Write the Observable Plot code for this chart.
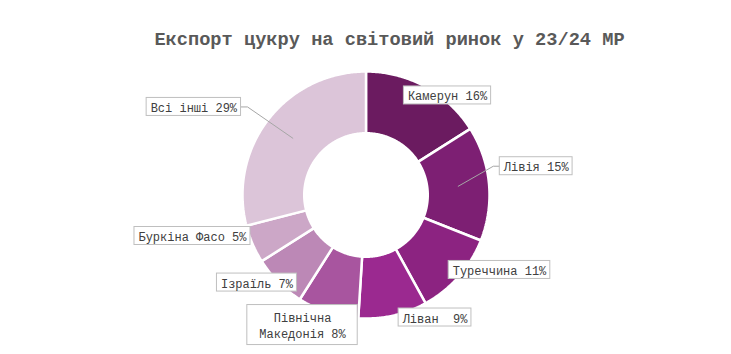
<!DOCTYPE html>
<html>
<head>
<meta charset="utf-8">
<script src="https://cdn.jsdelivr.net/npm/d3@7"></script>
<script src="https://cdn.jsdelivr.net/npm/@observablehq/plot@0.6"></script>
<style>
  html, body { margin: 0; padding: 0; background: #ffffff; }
  svg text { white-space: pre; }
</style>
</head>
<body>
<div id="chart"></div>
<script>
// ---- data ----
const titleText = "Експорт цукру на світовий ринок у 23/24 МР";
const categories = ["Камерун", "Лівія", "Туреччина", "Ліван", "Північна Македонія", "Ізраїль", "Буркіна Фасо", "Всі інші"];
const shares = [16, 15, 11, 9, 8, 7, 5, 29];
const labelTexts = ["Камерун 16%", "Лівія 15%", "Туреччина 11%", "Ліван  9%", "Північна\nМакедонія 8%", "Ізраїль 7%", "Буркіна Фасо 5%", "Всі інші 29%"];
const sliceColors = ["#6b1b60", "#7d1f73", "#8c2381", "#9b2990", "#a8559f", "#bc88b6", "#cca7c7", "#dcc5d9"];

// ---- layout (not data) ----
const W = 731, H = 354;
const R = 123.5;              // outer radius in px
const CX = 365.5, CY = 194.5; // centre in px
const HOLE = 0.5;             // doughnut hole size
const FS = 12, PAD = 4, LH = 1.3;
const MONO = "'Courier New', 'Nimbus Mono PS', FreeMono, 'Liberation Mono', monospace";
// label box centres in units of the outer radius (x right, y up)
const labelPos = [[0.660, 0.806], [1.378, 0.233], [1.081, -0.607], [0.559, -0.992], [-0.514, -1.053], [-0.883, -0.709], [-1.405, -0.332], [-1.394, 0.713]];
const hasLeader = [false, true, false, false, false, false, false, true];

const pie = d3.pie().sort(null).value(d => d)(shares);

// slice polygons
const poly = [];
pie.forEach((p, i) => {
  const n = Math.max(8, Math.ceil((p.endAngle - p.startAngle) / 0.01));
  for (let k = 0; k <= n; k++) {
    const a = p.startAngle + (p.endAngle - p.startAngle) * k / n;
    poly.push({cat: categories[i], x: Math.sin(a), y: Math.cos(a)});
  }
  for (let k = n; k >= 0; k--) {
    const a = p.startAngle + (p.endAngle - p.startAngle) * k / n;
    poly.push({cat: categories[i], x: HOLE * Math.sin(a), y: HOLE * Math.cos(a)});
  }
});

// labels and boxes
const labels = labelTexts.map((t, i) => {
  const lines = t.split("\n");
  const chars = d3.max(lines, l => l.length);
  const wpx = chars * 0.6 * FS + 2 * PAD + (lines.length > 1 ? 16 : 0);
  const hpx = lines.length === 1 ? 18 : 40;
  const [lx, ly] = labelPos[i];
  return {cat: categories[i], text: t, x: lx, y: ly, hw: wpx / 2 / R, hh: hpx / 2 / R};
});

// leader lines from slice centroid to label box edge
const leaders = [];
pie.forEach((p, i) => {
  if (!hasLeader[i]) return;
  const a = (p.startAngle + p.endAngle) / 2;
  const rm = (1 + HOLE) / 2;
  const cx = rm * Math.sin(a), cy = rm * Math.cos(a);
  const L = labels[i];
  const side = L.x > cx ? -1 : 1;
  const edge = L.x + side * L.hw;
  const elbow = edge + side * 6.5 / R;
  leaders.push({cat: categories[i], x: cx, y: cy});
  leaders.push({cat: categories[i], x: elbow, y: L.y});
  leaders.push({cat: categories[i], x: edge, y: L.y});
});

const chart = Plot.plot({
  width: W,
  height: H,
  margin: 0,
  x: {domain: [-CX / R, (W - CX) / R], axis: null},
  y: {domain: [(CY - H) / R, CY / R], axis: null},
  color: {domain: categories, range: sliceColors},
  style: {background: "#ffffff"},
  marks: [
    Plot.line(poly, {x: "x", y: "y", z: "cat", fill: "cat", stroke: "#ffffff", strokeWidth: 2.5, curve: "linear-closed", strokeLinejoin: "miter"}),
    Plot.line(leaders, {x: "x", y: "y", z: "cat", stroke: "#a6a6a6", strokeWidth: 1}),
    Plot.rect(labels, {x1: d => d.x - d.hw, x2: d => d.x + d.hw, y1: d => d.y - d.hh, y2: d => d.y + d.hh, fill: "#ffffff", stroke: "#bfbfbf", strokeWidth: 1}),
    Plot.text(labels, {x: "x", y: "y", text: "text", fontSize: FS, fontFamily: MONO, fill: "#404040", lineHeight: LH, textAnchor: "middle", lineAnchor: "middle"}),
    Plot.text([titleText], {frameAnchor: "top", dx: 23.5, dy: 39, text: d => d, fontSize: 18.67, fontWeight: "bold", fontFamily: MONO, fill: "#595959", textAnchor: "middle", lineAnchor: "middle"})
  ]
});

document.getElementById("chart").appendChild(chart);
</script>
</body>
</html>
